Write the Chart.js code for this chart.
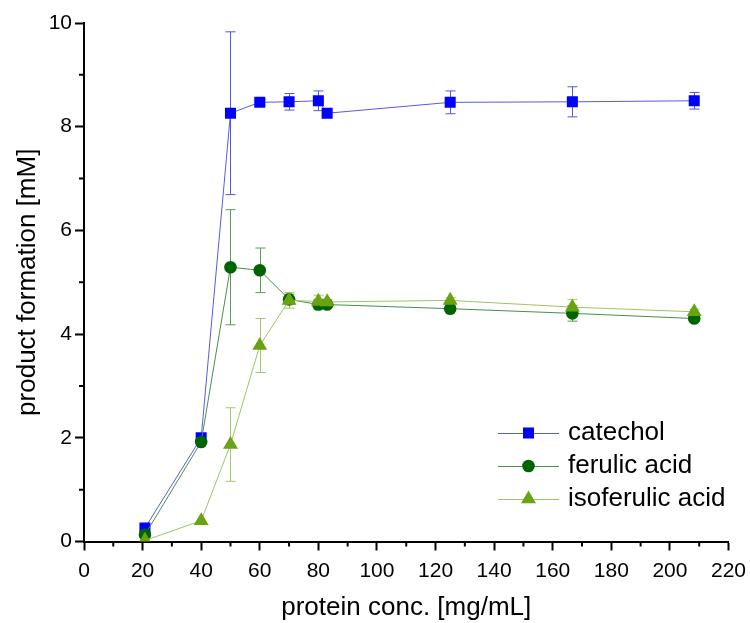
<!DOCTYPE html>
<html>
<head>
<meta charset="utf-8">
<script src="https://cdn.jsdelivr.net/npm/chart.js@4.4.0/dist/chart.umd.min.js"></script>
<style>
  html, body { margin: 0; padding: 0; background: #fff; }
  #wrap { width: 750px; height: 623px; position: relative; }
</style>
</head>
<body>
<div id="wrap"><canvas id="chart" width="750" height="623"></canvas></div>
<script>
// protein concentration [mg/mL]
const concentrations = [20.8, 40, 50, 60, 70, 80, 83, 125, 166.7, 208.3];

// product formation [mM] and standard deviations
const catechol     = [0.26, 2.00, 8.26, 8.47, 8.48, 8.50, 8.26, 8.47, 8.48, 8.50];
const catecholErr  = [0, 0, 1.57, 0.05, 0.16, 0.19, 0, 0.22, 0.29, 0.16];
const ferulic      = [0.13, 1.92, 5.29, 5.23, 4.67, 4.57, 4.57, 4.49, 4.40, 4.30];
const ferulicErr   = [0, 0, 1.11, 0.43, 0.10, 0.10, 0.05, 0.05, 0.15, 0.05];
const isoferulic   = [0.02, 0.40, 1.87, 3.78, 4.65, 4.63, 4.62, 4.65, 4.52, 4.43];
const isoferulicErr = [0, 0, 0.71, 0.52, 0.15, 0.12, 0.05, 0.05, 0.15, 0.05];

const seriesLabels = ['catechol', 'ferulic acid', 'isoferulic acid'];
const xTitle = 'protein conc. [mg/mL]';
const yTitle = 'product formation [mM]';

const FONT = "'Liberation Sans', Arial, sans-serif";

function toPoints(ys) {
    return concentrations.map((x, i) => ({ x: x, y: ys[i] }));
}

// vertical error bars with caps, drawn under the markers
const errorBars = {
    id: 'errorBars',
    beforeDatasetsDraw(chart) {
        const ctx = chart.ctx;
        const xs = chart.scales.x, ys = chart.scales.y;
        chart.data.datasets.forEach(ds => {
            if (!ds.errors) return;
            ctx.save();
            ctx.strokeStyle = ds.errorColor;
            ctx.lineWidth = 1;
            ds.data.forEach((p, i) => {
                const e = ds.errors[i];
                if (!e) return;
                const px = Math.round(xs.getPixelForValue(p.x)) + 0.5;
                const top = ys.getPixelForValue(p.y + e);
                const bot = ys.getPixelForValue(p.y - e);
                ctx.beginPath();
                ctx.moveTo(px, top); ctx.lineTo(px, bot);
                ctx.moveTo(px - 5, top); ctx.lineTo(px + 5, top);
                ctx.moveTo(px - 5, bot); ctx.lineTo(px + 5, bot);
                ctx.stroke();
            });
            ctx.restore();
        });
    }
};

// minor ticks between the labelled ones
const minorTicks = {
    id: 'minorTicks',
    afterDraw(chart) {
        const ctx = chart.ctx;
        const xs = chart.scales.x, ys = chart.scales.y;
        const area = chart.chartArea;
        ctx.save();
        ctx.strokeStyle = '#000';
        ctx.lineWidth = 2;
        ctx.beginPath();
        for (let v = 10; v < 220; v += 20) {
            const px = xs.getPixelForValue(v);
            ctx.moveTo(px, area.bottom); ctx.lineTo(px, area.bottom + 5);
        }
        for (let v = 1; v < 10; v += 2) {
            const py = ys.getPixelForValue(v);
            ctx.moveTo(area.left, py); ctx.lineTo(area.left - 5, py);
        }
        ctx.stroke();
        ctx.restore();
    }
};

// legend inside the plot, lower right
const insideLegend = {
    id: 'insideLegend',
    afterDraw(chart) {
        const ctx = chart.ctx;
        const x0 = 498, x1 = 559, tx = 568;
        const rows = [433, 466, 499];
        ctx.save();
        chart.data.datasets.forEach((ds, i) => {
            const y = rows[i];
            ctx.strokeStyle = ds.borderColor;
            ctx.lineWidth = 1;
            ctx.beginPath();
            ctx.moveTo(x0, y + 0.5); ctx.lineTo(x1, y + 0.5);
            ctx.stroke();
            ctx.fillStyle = ds.pointBackgroundColor;
            ctx.strokeStyle = ds.pointBackgroundColor;
            Chart.helpers.drawPoint(ctx, {
                pointStyle: ds.pointStyle,
                radius: ds.pointRadius,
                borderWidth: 0
            }, (x0 + x1) / 2, y);
            ctx.fillStyle = '#000';
            ctx.font = '26px ' + FONT;
            ctx.textBaseline = 'middle';
            ctx.textAlign = 'left';
            ctx.fillText(ds.label, tx, y);
        });
        ctx.restore();
    }
};

new Chart(document.getElementById('chart'), {
    type: 'scatter',
    data: {
        datasets: [
            {
                label: seriesLabels[0],
                data: toPoints(catechol),
                errors: catecholErr,
                errorColor: '#5656e0',
                showLine: true,
                borderColor: '#5a5ae0',
                borderWidth: 1,
                pointStyle: 'rect',
                pointRadius: 7.8,
                pointBackgroundColor: '#0000ff',
                pointBorderWidth: 0,
                order: 3
            },
            {
                label: seriesLabels[1],
                data: toPoints(ferulic),
                errors: ferulicErr,
                errorColor: '#5a9a5a',
                showLine: true,
                borderColor: '#4a8f4a',
                borderWidth: 1,
                pointStyle: 'circle',
                pointRadius: 6.3,
                pointBackgroundColor: '#006400',
                pointBorderWidth: 0,
                order: 2
            },
            {
                label: seriesLabels[2],
                data: toPoints(isoferulic),
                errors: isoferulicErr,
                errorColor: '#a2c86e',
                showLine: true,
                borderColor: '#9cc566',
                borderWidth: 1,
                pointStyle: 'triangle',
                pointRadius: 8.6,
                pointBackgroundColor: '#6aa310',
                pointBorderWidth: 0,
                order: 1
            }
        ]
    },
    options: {
        responsive: false,
        animation: false,
        devicePixelRatio: 1,
        layout: {
            padding: { top: 23, right: 21.5, bottom: 0, left: 0 }
        },
        plugins: {
            legend: { display: false },
            tooltip: { enabled: false }
        },
        scales: {
            x: {
                type: 'linear',
                min: 0,
                max: 220,
                afterFit(scale) {
                    scale.height = 81.5;
                    scale.paddingRight = 0;
                },
                border: { display: true, color: '#000', width: 2 },
                grid: {
                    display: true,
                    drawOnChartArea: false,
                    drawTicks: true,
                    tickLength: 9,
                    tickWidth: 2,
                    tickColor: '#000'
                },
                ticks: {
                    stepSize: 20,
                    color: '#000',
                    padding: 8,
                    maxRotation: 0,
                    font: { family: FONT, size: 21 }
                },
                title: {
                    display: true,
                    text: xTitle,
                    color: '#000',
                    padding: { top: 0, bottom: 0 },
                    font: { family: FONT, size: 26 }
                }
            },
            y: {
                type: 'linear',
                min: 0,
                max: 10,
                afterFit(scale) { scale.width = 84; },
                border: { display: true, color: '#000', width: 2 },
                grid: {
                    display: true,
                    drawOnChartArea: false,
                    drawTicks: true,
                    tickLength: 9,
                    tickWidth: 2,
                    tickColor: '#000'
                },
                ticks: {
                    stepSize: 2,
                    color: '#000',
                    padding: 3,
                    font: { family: FONT, size: 21 }
                },
                title: {
                    display: true,
                    text: yTitle,
                    color: '#000',
                    padding: { top: 12, bottom: 0 },
                    font: { family: FONT, size: 26 }
                }
            }
        }
    },
    plugins: [errorBars, minorTicks, insideLegend]
});
</script>
</body>
</html>
